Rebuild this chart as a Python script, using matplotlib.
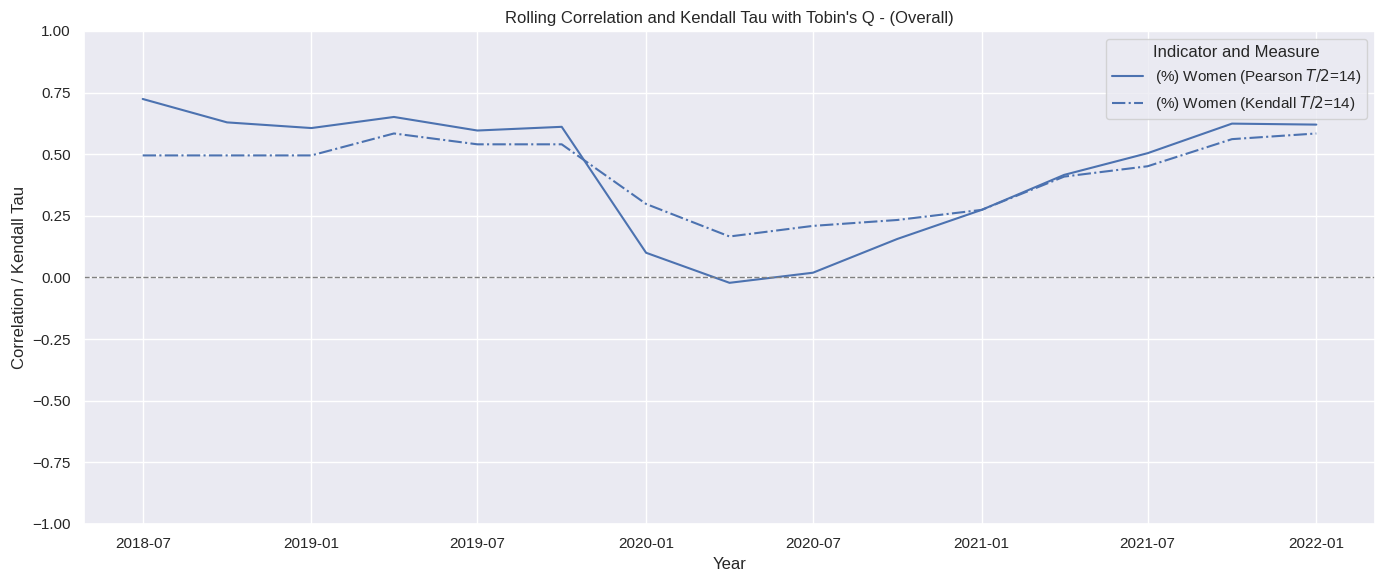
import matplotlib
matplotlib.use("Agg")
import matplotlib.dates as mdates
import matplotlib.pyplot as plt
import numpy as np
import pandas as pd
import seaborn as sns

sns.set_theme()
plt.rcParams["font.family"] = ["Liberation Sans", "DejaVu Sans"]

dates = pd.to_datetime([
    "2018-07-01", "2018-10-01", "2019-01-01", "2019-04-01", "2019-07-01",
    "2019-10-01", "2020-01-01", "2020-04-01", "2020-07-01", "2020-10-01",
    "2021-01-01", "2021-04-01", "2021-07-01", "2021-10-01", "2022-01-01",
])
pearson = [0.724, 0.629, 0.606, 0.651, 0.596, 0.611, 0.100, -0.022, 0.019,
           0.156, 0.274, 0.416, 0.504, 0.624, 0.620]
kendall = [0.495, 0.495, 0.495, 0.584, 0.540, 0.540, 0.298, 0.166, 0.209,
           0.233, 0.274, 0.409, 0.451, 0.561, 0.584]

color = sns.color_palette("deep")[0]

fig, ax = plt.subplots(figsize=(13.84, 5.84), dpi=100)
ax.plot(dates, pearson, color=color, linestyle="-",
        label="(%) Women (Pearson $T/2$=14)")
ax.plot(dates, kendall, color=color, linestyle="-.",
        label="(%) Women (Kendall $T/2$=14)")
ax.axhline(0, color="gray", linestyle="--", linewidth=1)

ax.set_ylim(-1, 1)
ax.xaxis.set_major_locator(mdates.MonthLocator(bymonth=[1, 7]))
ax.xaxis.set_major_formatter(mdates.DateFormatter("%Y-%m"))
ax.set_title("Rolling Correlation and Kendall Tau with Tobin's Q - (Overall)")
ax.set_xlabel("Year")
ax.set_ylabel("Correlation / Kendall Tau")
ax.legend(title="Indicator and Measure", loc="upper right")

fig.subplots_adjust(left=0.0607, right=0.9935, top=0.947, bottom=0.103)
fig.savefig("out.png")
